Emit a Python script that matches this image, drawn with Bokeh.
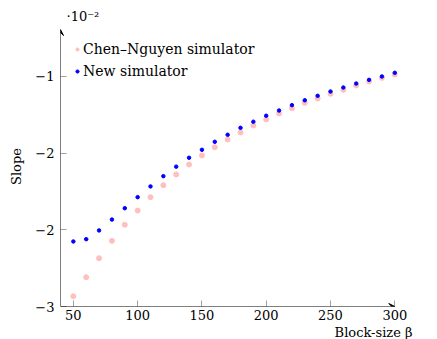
from bokeh.plotting import figure
from bokeh.models import Range1d, FixedTicker, Arrow, VeeHead, Legend, LegendItem, Title
from bokeh.embed import file_html
from bokeh.resources import INLINE

# Slope values in units of 10^-2
block_sizes = [50, 60, 70, 80, 90, 100, 110, 120, 130, 140, 150, 160, 170, 180, 190,
               200, 210, 220, 230, 240, 250, 260, 270, 280, 290, 300]
chen_nguyen = [-2.433, -2.309, -2.185, -2.072, -1.967, -1.874, -1.787, -1.709, -1.639, -1.574,
               -1.515, -1.461, -1.411, -1.365, -1.320, -1.280, -1.241, -1.207, -1.172, -1.144,
               -1.113, -1.087, -1.059, -1.033, -1.009, -0.987]
new_simulator = [-2.076, -2.061, -2.004, -1.933, -1.859, -1.787, -1.717, -1.650, -1.588, -1.530,
                 -1.478, -1.426, -1.380, -1.335, -1.295, -1.256, -1.222, -1.187, -1.155, -1.126,
                 -1.098, -1.072, -1.046, -1.022, -1.000, -0.976]
x_ticks = [50, 100, 150, 200, 250, 300]
y_ticks = [-2.5, -2.0, -1.5, -1.0]
y_tick_labels = ["\u22123", "\u22122", "\u22122", "\u22121"]

FONT = "DejaVu Serif"

p = figure(width=437, height=339, output_backend="svg", toolbar_location=None,
           x_range=Range1d(40, 306), y_range=Range1d(-2.5, -0.674),
           min_border_left=60, min_border_right=35, min_border_top=26, min_border_bottom=33)
p.grid.visible = False
p.outline_line_color = None
p.background_fill_color = "white"

p.title.text = "\u00b710\u207b\u00b2"
p.title.align = "left"
p.title.offset = 6
p.title.standoff = 6
p.title.text_font = FONT
p.title.text_font_style = "normal"
p.title.text_font_size = "13px"
p.title.text_color = "black"

for ax in (p.xaxis[0], p.yaxis[0]):
    ax.axis_line_color = None
    ax.major_tick_in = 6
    ax.major_tick_out = 0
    ax.minor_tick_line_color = None
    ax.major_tick_line_color = "#a0a0a0"
    ax.major_label_text_font = FONT
    ax.major_label_text_font_size = "13px"
    ax.major_label_text_color = "black"
    ax.axis_label_text_font = FONT
    ax.axis_label_text_font_style = "normal"
    ax.axis_label_text_font_size = "13px"
    ax.axis_label_text_color = "black"

p.xaxis.ticker = FixedTicker(ticks=x_ticks)
p.xaxis.major_label_standoff = 3
p.yaxis.ticker = FixedTicker(ticks=y_ticks)
p.yaxis.major_label_overrides = {t: l for t, l in zip(y_ticks, y_tick_labels)}
p.yaxis.major_label_standoff = 6
p.yaxis.axis_label = "Slope"
p.yaxis.axis_label_standoff = 8

xlabel = Title(text="Block-size \u03b2", align="right", offset=-10, standoff=0,
               text_font=FONT, text_font_style="normal", text_font_size="13px",
               text_color="black")
p.add_layout(xlabel, "below")

# axis lines with arrows
p.add_layout(Arrow(end=VeeHead(size=6, line_color="black", fill_color="black", line_width=1),
                   x_start=40, y_start=-2.5, x_end=300, y_end=-2.5, line_width=1, line_color="black"))
p.add_layout(Arrow(end=VeeHead(size=6, line_color="black", fill_color="black", line_width=1),
                   x_start=40, y_start=-2.5, x_end=40, y_end=-0.694, line_width=1, line_color="black"))

r1 = p.scatter(block_sizes, chen_nguyen, size=5, color="#ffbfbf")
r2 = p.scatter(block_sizes, new_simulator, size=3.5, color="#0000ff")

legend = Legend(items=[LegendItem(label="Chen\u2013Nguyen simulator", renderers=[r1]),
                       LegendItem(label="New simulator", renderers=[r2])],
                location="top_left", margin=13, padding=0, glyph_width=8, glyph_height=20,
                label_height=20, spacing=2, label_standoff=2,
                border_line_color=None, background_fill_alpha=0,
                label_text_font=FONT, label_text_font_size="14px", label_text_color="black")
p.add_layout(legend)

open("out.html", "w").write(file_html(p, INLINE))
